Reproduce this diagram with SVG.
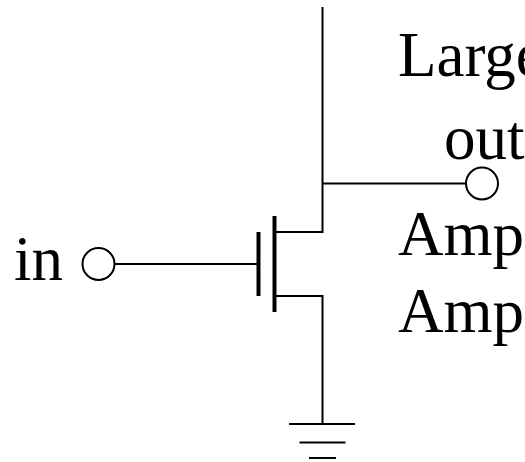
<svg xmlns="http://www.w3.org/2000/svg" width="525" height="462" viewBox="0 0 525 462">
<style>
.w{fill:none;stroke:#000;stroke-width:2}
.t{stroke-width:4}
.n{fill:#fff;stroke:#000;stroke-width:2}
text{font-family:"Liberation Serif","Times New Roman",serif;font-size:63px;fill:#000}
</style>
<rect width="525" height="462" fill="#fff"/>
<g id="connectors">
<path class="w" d="M322.500 7V232H275"/>
<path class="w" d="M275 296H322.500V424"/>
<path class="w" d="M322.500 183.500H467"/>
<path class="w" d="M115 264H257"/>
</g>
<g id="transistor">
<path class="w t" d="M258.500 232V296"/>
<path class="w t" d="M274.500 216V312"/>
</g>
<g id="ground">
<path class="w" d="M289 424H355"/>
<path class="w" d="M299.500 442.500H345.500"/>
<path class="w" d="M309 458H336"/>
</g>
<g id="in"><text x="14" y="280">in</text><circle class="n" cx="98.500" cy="264" r="16"/></g>
<g id="out"><text x="444" y="159">out</text><circle class="n" cx="482" cy="183.500" r="16"/></g>
<g id="labels">
<text x="398" y="76">Large</text>
<text x="398" y="255">Amp</text>
<text x="398" y="332">Amp</text>
</g>
</svg>
